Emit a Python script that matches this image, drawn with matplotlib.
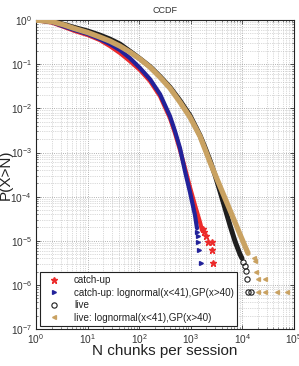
import matplotlib
matplotlib.use("Agg")
import matplotlib.pyplot as plt
from matplotlib.ticker import LogLocator, NullFormatter

plt.rcParams['font.family'] = ['Liberation Sans', 'DejaVu Sans']
plt.rcParams['mathtext.fontset'] = 'custom'
plt.rcParams['mathtext.rm'] = 'Liberation Sans'

# ---- data ----
# catch-up empirical CCDF (dense part)
catch_x = [1, 2.04, 3.34, 5.70, 10.2, 17.4, 27.2, 42.5, 66.4, 104, 162, 253, 395, 494, 618, 772, 964, 1206, 1507, 1648]
catch_y = [1, 0.878, 0.713, 0.564, 0.457, 0.352, 0.257, 0.179, 0.117, 0.0735, 0.0414, 0.0189, 0.0060, 0.00274, 0.00113, 4.41e-4, 1.63e-4, 6.38e-5, 2.63e-5, 1.73e-5]
catch_tail_x = [1700, 1800, 1970, 2150, 2550, 2600, 2700]
catch_tail_y = [1.875e-5, 1.56e-5, 1.25e-5, 9.4e-6, 9.4e-6, 6.25e-6, 3.1e-6]

# catch-up fit: lognormal(x<41), GP(x>40)
cfit_x = [1, 2.04, 3.34, 5.70, 10.2, 17.4, 27.2, 42.5, 66.4, 104, 162, 253, 395, 494, 618, 772, 964, 1206, 1318]
cfit_y = [1, 0.901, 0.731, 0.593, 0.482, 0.371, 0.286, 0.209, 0.137, 0.0817, 0.0459, 0.0210, 0.00665, 0.00304, 0.00125, 3.77e-4, 1.26e-4, 3.78e-5, 1.92e-5]
cfit_tail_x = [1320, 1350, 1380, 1450, 1580]
cfit_tail_y = [1.56e-5, 1.25e-5, 9.4e-6, 6.25e-6, 3.1e-6]

# live empirical CCDF
live_x = [1, 2.04, 3.34, 5.70, 10.2, 17.4, 27.2, 42.5, 66.4, 104, 162, 253, 395, 618, 964, 1507, 1884, 2355, 2944, 3680, 4600, 5750, 7190, 8980, 9820]
live_y = [1, 0.949, 0.811, 0.676, 0.564, 0.457, 0.371, 0.286, 0.196, 0.133, 0.0885, 0.0530, 0.0302, 0.0150, 0.00690, 0.00245, 0.00130, 6.6e-4, 3.1e-4, 1.32e-4, 5.46e-5, 2.24e-5, 9.75e-6, 4.94e-6, 4.01e-6]
live_tail_x = [10200, 11200, 11500, 12300, 12800, 14500]
live_tail_y = [3.38e-6, 2.7e-6, 2.03e-6, 1.35e-6, 6.76e-7, 6.76e-7]

# live fit: lognormal(x<41), GP(x>40)
lfit_x = [1, 2.04, 3.34, 5.70, 10.2, 17.4, 27.2, 42.5, 66.4, 104, 162, 253, 395, 618, 964, 1507, 2355, 3680, 5750, 8980, 12850]
lfit_y = [1, 0.925, 0.791, 0.641, 0.521, 0.412, 0.334, 0.257, 0.188, 0.131, 0.0859, 0.0509, 0.0287, 0.01384, 0.00631, 0.00234, 6.03e-4, 1.72e-4, 4.92e-5, 1.40e-5, 5.21e-6]
lfit_tail_x = [16800, 17500, 18300, 20000, 27500, 20000, 27500, 47000, 73000]
lfit_tail_y = [4.0e-6, 3.4e-6, 2.0e-6, 1.35e-6, 1.35e-6, 6.76e-7, 6.76e-7, 6.76e-7, 6.76e-7]

labels = ['catch-up', 'catch-up: lognormal(x<41),GP(x>40)', 'live', 'live: lognormal(x<41),GP(x>40)']

RED = '#ec2b2b'
BLUE = '#22229a'
BLACK = '#1e1e1e'
GOLD = '#c9a262'

fig = plt.figure(figsize=(2.99, 3.66), dpi=100)
ax = fig.add_axes([0.1204, 0.101, 0.8629, 0.844])

ax.plot(catch_x, catch_y, color=RED, lw=3.0, solid_capstyle='round', zorder=3)
ax.plot(catch_tail_x, catch_tail_y, ls='none', marker='*', ms=4.5, color=RED, zorder=3, label=labels[0])
ax.plot(cfit_x, cfit_y, color=BLUE, lw=3.0, solid_capstyle='round', zorder=4)
ax.plot(cfit_tail_x, cfit_tail_y, ls='none', marker='>', ms=2.8, color=BLUE, zorder=4, label=labels[1])
ax.plot(live_x, live_y, color=BLACK, lw=3.6, solid_capstyle='round', zorder=5)
ax.plot(live_tail_x, live_tail_y, ls='none', marker='o', ms=3.8, mfc='none', mec=BLACK, mew=0.8, zorder=5, label=labels[2])
ax.plot(lfit_x, lfit_y, color=GOLD, lw=3.8, solid_capstyle='round', zorder=6)
ax.plot(lfit_tail_x, lfit_tail_y, ls='none', marker='<', ms=2.8, color=GOLD, zorder=6, label=labels[3])

ax.set_xscale('log')
ax.set_yscale('log')
ax.set_xlim(1, 1e5)
ax.set_ylim(1e-7, 1)

ax.xaxis.set_major_locator(LogLocator(base=10, numticks=10))
ax.yaxis.set_major_locator(LogLocator(base=10, numticks=10))
ax.xaxis.set_minor_locator(LogLocator(base=10, subs=range(2, 10), numticks=20))
ax.yaxis.set_minor_locator(LogLocator(base=10, subs=range(2, 10), numticks=20))
ax.xaxis.set_minor_formatter(NullFormatter())
ax.yaxis.set_minor_formatter(NullFormatter())

ax.grid(True, which='major', color='#9a9a9a', ls=':', lw=0.6)
ax.grid(True, which='minor', color='#b5b5b5', ls=':', lw=0.5)
ax.set_axisbelow(True)

ax.tick_params(which='both', direction='in', top=True, right=True, labelsize=7.3, colors='#333333')
ax.tick_params(axis='x', which='both', pad=2)
ax.tick_params(axis='y', which='both', pad=3)
ax.tick_params(which='major', length=3, width=0.6)
ax.tick_params(which='minor', length=1.5, width=0.4)
for s in ax.spines.values():
    s.set_linewidth(0.8)
    s.set_color('#222222')

ax.set_title('CCDF', fontsize=6.5, color='#333333', pad=5)
ax.set_xlabel('N chunks per session', fontsize=11, color='#222222')
ax.set_ylabel('P(X>N)', fontsize=11, color='#222222')
ax.xaxis.set_label_coords(0.5, -0.05)
ax.yaxis.set_label_coords(-0.09, 0.5)

leg = ax.legend(loc='lower left', bbox_to_anchor=(0.0155, 0.0097), fontsize=7.1,
                frameon=True, fancybox=False, edgecolor='#222222', framealpha=1,
                borderpad=0.35, labelspacing=0.25, handlelength=2.2, handletextpad=0.9,
                borderaxespad=0, markerscale=1.0)
leg.get_frame().set_linewidth(0.8)
leg.set_zorder(10)
for t in leg.get_texts():
    t.set_color('#222222')

fig.savefig('out.png', dpi=100)
